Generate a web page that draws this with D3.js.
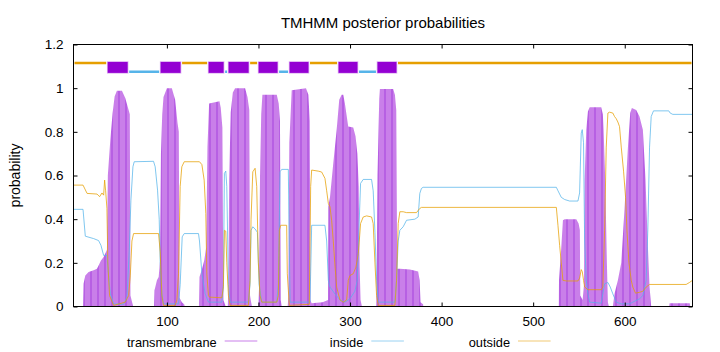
<!DOCTYPE html>
<html>
<head>
<meta charset="utf-8">
<script src="https://cdn.jsdelivr.net/npm/d3@7"></script>
<style>
body { margin: 0; background: #fff; }
svg text { font-family: "Liberation Sans", Arial, sans-serif; fill: #000; }
</style>
</head>
<body>
<svg id="chart"></svg>
<script>
// posterior probabilities per residue as [residue, probability]
var transmembrane = [
  [-2,0],[8.5,0],[9,0.104],[10.9,0.142],[14.5,0.158],[20,0.166],[23.6,0.173],[25.4,0.188],[28,0.211],[30.9,0.227],[33.5,0.25],[34.5,0.26],
  [35.5,0.6],[38.2,0.763],[40.7,0.886],[42.9,0.962],[45.4,0.988],[50.9,0.988],[54.5,0.955],[58.2,0.9],[59.5,0.88],[60.2,0.05],[62,0.02],[63,0],
  [86,0],[86.5,0.074],[89.1,0.12],[91,0.135],[92.5,0.21],[93.5,0.7],[94.9,0.88],[96.3,0.96],[100,1],[105.4,1],[109,0.947],[111.6,0.84],[113,0.8],[113.8,0.04],[116.3,0.02],[118.9,0.01],[119.5,0],
  [135,0],[135.6,0.135],[138.2,0.17],[140.7,0.21],[142.9,0.27],[144.3,0.73],[146.1,0.93],[157.4,0.94],[158.8,0.91],[160.6,0.82],[161.7,0.03],[164.3,0],
  [166.5,0],[167.2,0.1],[168,0.58],[169.7,0.89],[172,0.98],[174.5,1],[185.4,1],[188,0.96],[190,0.9],[190.8,0.05],[192.7,0],
  [200,0],[200.7,0.1],[201.7,0.6],[203,0.88],[204.3,0.97],[220,0.97],[222.1,0.93],[223.5,0.85],[224.3,0.03],[225.5,0],
  [232,0],[232.6,0.05],[233.7,0.75],[236.3,0.99],[251.9,1],[254.5,0.97],[256,0.85],[256.8,0.03],[258,0.015],[270,0.02],[276,0.03],
  [276.3,0.457],[278.1,0.5],[281.7,0.656],[285.4,0.81],[288.2,0.947],[290.8,0.97],[292.6,0.97],[294.4,0.93],[298,0.824],[303.5,0.82],[306,0.78],[308,0.7],[309.5,0.55],[310.5,0.18],[311.5,0.03],[313,0],
  [328.5,0],[329,0.1],[330,0.6],[331.9,0.95],[332.6,0.996],[347.1,0.996],[349,0.97],[350.5,0.9],[351.5,0.173],[354.4,0.173],[365.3,0.17],[370,0.165],[374.4,0.16],[376,0.12],[377,0.02],[379.8,0.01],[380,0],
  [528,0],[528.2,0.12],[530.7,0.27],[532.5,0.395],[534.4,0.4],[547.1,0.4],[549.6,0.38],[551,0.35],[551.4,0.05],[554,0.03],
  [555.5,0.1],[556.2,0.58],[558,0.81],[559.8,0.893],[561.7,0.913],[574.3,0.913],[576.1,0.88],[576.9,0.81],[578.7,0.58],[580.5,0.2],[581.6,0.02],[582.5,0],
  [587,0],[588.9,0.06],[592.5,0.12],[596.2,0.2],[599.8,0.45],[603.5,0.73],[606,0.886],[607.8,0.909],[612.5,0.9],[616.1,0.87],[619.8,0.81],[622.7,0.58],[625.3,0.273],[627.1,0.089],[628.9,0],
  [648.5,0],[649,0.015],[671,0.015],[671.5,0],[674,0]
];

var inside = [
  [-2,0.445],[8.4,0.445],[10.9,0.322],[20,0.311],[25.4,0.302],[28,0.28],[30.9,0.234],[34.5,0.234],[36.4,0.135],[38.2,0.06],[41.8,0.012],[52.7,0.01],
  [56.4,0.043],[58.9,0.257],[60.7,0.487],[62.9,0.64],[64.3,0.663],[85.4,0.665],[87.2,0.64],[89.8,0.533],[91.6,0.4],[92.7,0.2],[94.5,0.06],[96.3,0.012],
  [112.7,0.012],[114.5,0.1],[116.7,0.319],[118.9,0.334],[134.5,0.334],[135.6,0.3],[138.2,0.15],[141.8,0.058],[145.4,0.02],[160,0.02],
  [161.7,0.1],[162.8,0.61],[164.3,0.62],[165.4,0.55],[167.2,0.1],[169,0.02],[189,0.02],[190.8,0.1],[191.9,0.349],[193.8,0.365],[196.3,0.355],[198.8,0.34],
  [200.7,0.1],[203.6,0.02],[220,0.02],[221.7,0.1],[223.6,0.617],[225.4,0.628],[232.6,0.628],[234.5,0.02],[256.3,0.02],[258.1,0.372],[272.6,0.372],
  [274.5,0.3],[276.3,0.12],[278.1,0.089],[283.5,0.058],[289,0.03],[294.4,0.02],[299.9,0.035],[305.3,0.07],[307.9,0.12],[309.7,0.35],[311.5,0.564],
  [314.4,0.582],[323.5,0.582],[325.3,0.53],[327.2,0.34],[329,0.12],[330.8,0.02],[349,0.02],[350.8,0.12],[352.6,0.3],[354.4,0.349],[358,0.365],
  [361.7,0.395],[370.8,0.4],[374.4,0.41],[376.2,0.518],[378,0.541],[379.8,0.546],[525.3,0.546],[527.1,0.53],[530.7,0.5],[534.4,0.49],[539.8,0.483],
  [548.9,0.483],[550.7,0.52],[552.5,0.794],[553.6,0.81],[555,0.75],[556.2,0.3],[558,0.12],[559.8,0.058],[561.7,0.02],[574.3,0.015],[576.1,0.058],
  [578,0.104],[581.6,0.11],[584.2,0.089],[587,0.058],[590.7,0.02],[596.2,0.012],[605.2,0.012],[608.8,0.02],[616.1,0.035],[619.8,0.05],[623.4,0.12],
  [625.2,0.35],[627.1,0.73],[628.9,0.87],[631.4,0.896],[648.1,0.896],[649.6,0.886],[652.5,0.88],[674,0.88]
];

var outside = [
  [-2,0.556],[8.4,0.556],[12.8,0.518],[23.7,0.515],[26.5,0.503],[29.1,0.52],[30.9,0.51],[32,0.579],[33.1,0.53],[34.5,0.45],[35.5,0.2],[37.4,0.05],
  [41.8,0.005],[54.5,0.02],[58.2,0.05],[60,0.14],[61.8,0.3],[63.6,0.334],[90.9,0.334],[92.7,0.25],[94.5,0.05],[96.3,0.005],[109,0.005],[110.9,0.03],
  [112.7,0.15],[114.5,0.55],[116.3,0.64],[118.9,0.663],[135.6,0.663],[138.2,0.65],[140.7,0.579],[142.5,0.426],[143.6,0.15],[145.4,0.05],[146.5,0.043],
  [160,0.04],[161.7,0.09],[162.8,0.349],[164.3,0.345],[165.4,0.2],[167.2,0.05],[169,0.005],[189,0.005],[190.8,0.12],[191.9,0.4],[193.8,0.617],
  [196.3,0.633],[198.1,0.55],[199.9,0.2],[201.7,0.05],[203.6,0.02],[220,0.02],[221.7,0.05],[222.8,0.349],[224.3,0.372],[230.8,0.372],[231.5,0.15],
  [233.7,0.005],[255.5,0.01],[257,0.55],[258.1,0.625],[265.3,0.62],[269,0.616],[272.6,0.587],[274.5,0.53],[276.3,0.472],[278.1,0.457],[279.9,0.395],
  [281.7,0.3],[283.5,0.19],[285.4,0.089],[289,0.03],[292.6,0.02],[296.3,0.03],[298.1,0.12],[299.9,0.142],[303.5,0.15],[306.4,0.18],[309,0.242],
  [310.1,0.3],[311.5,0.38],[314.4,0.41],[318.1,0.415],[323.5,0.41],[325.3,0.38],[327.2,0.2],[329,0.05],[330.8,0.005],[349,0.005],[350.8,0.12],
  [352.6,0.38],[354.4,0.434],[358,0.434],[361.7,0.43],[372.6,0.43],[374.4,0.44],[376.2,0.449],[378,0.454],[525.3,0.454],[527.1,0.37],[528.9,0.28],
  [530.7,0.2],[532.5,0.12],[536.2,0.117],[548.9,0.117],[550.7,0.13],[552.5,0.169],[553.6,0.16],[555,0.12],[556.2,0.089],[559.8,0.077],[574.3,0.077],
  [576.1,0.089],[578,0.349],[579.8,0.73],[581.6,0.886],[583.4,0.89],[587,0.886],[588.9,0.87],[590.7,0.86],[592.5,0.845],[594.3,0.824],[596.2,0.73],
  [598.7,0.62],[600.9,0.5],[602.4,0.35],[604.6,0.2],[607.1,0.12],[608.8,0.089],[611.8,0.061],[616.1,0.065],[619.8,0.07],[623.4,0.089],[627.1,0.101],
  [667.1,0.101],[670.7,0.11],[674,0.12]
];

// predicted topology shown in the bar above the curves
var topoType  = ["outside","TMhelix","inside","TMhelix","outside","TMhelix","inside","TMhelix","outside","TMhelix","inside","TMhelix","outside","TMhelix","inside","TMhelix","outside"];
var topoStart = [-2, 34.8, 57.7, 92.6, 115.5, 145, 162.5, 166.8, 189.8, 199.6, 221.4, 233.4, 255.2, 286.9, 308.7, 329.4, 351.3];
var topoEnd   = [34.8, 57.7, 92.6, 115.5, 145, 162.5, 166.8, 189.8, 199.6, 221.4, 233.4, 255.2, 286.9, 308.7, 329.4, 351.3, 674];

var xTicks = [100, 200, 300, 400, 500, 600];
var yTicks = [0, 0.2, 0.4, 0.6, 0.8, 1, 1.2];
var legendNames = ["transmembrane", "inside", "outside"];

var colors = { transmembrane: "#9400d3", inside: "#56b4e9", outside: "#e69f00" };

var svgWidth = 720, svgHeight = 352;
var margin = { top: 44.5, right: 27.5, bottom: 45.5, left: 73.5 };
var width = svgWidth - margin.left - margin.right;
var height = svgHeight - margin.top - margin.bottom;

var svg = d3.select("#chart")
    .attr("width", svgWidth)
    .attr("height", svgHeight);

// impulses look like a light purple fill with darker stripes
var defs = svg.append("defs");
var pat = defs.append("pattern")
    .attr("id", "tmfill")
    .attr("patternUnits", "userSpaceOnUse")
    .attr("width", 7)
    .attr("height", 20);
pat.append("rect").attr("width", 7).attr("height", 20).attr("fill", "#c97fe9");
pat.append("rect").attr("x", 3).attr("width", 1).attr("height", 20).attr("fill", "#a440dd");

defs.append("clipPath").attr("id", "plotclip")
  .append("rect").attr("width", width).attr("height", height);

var g = svg.append("g")
    .attr("transform", "translate(" + margin.left + "," + margin.top + ")");

var x = d3.scaleLinear().domain([-2, 674]).range([0, width]);
var y = d3.scaleLinear().domain([0, 1.2]).range([height, 0]);

// title
svg.append("text")
    .attr("x", margin.left + width / 2)
    .attr("y", 27.5)
    .attr("text-anchor", "middle")
    .attr("font-size", 15)
    .text("TMHMM posterior probabilities");

// y-axis label
svg.append("text")
    .attr("transform", "translate(20," + (margin.top + height / 2) + ") rotate(-90)")
    .attr("text-anchor", "middle")
    .attr("font-size", 14)
    .text("probability");

var plot = g.append("g").attr("clip-path", "url(#plotclip)");

// transmembrane probability as filled impulses
var area = d3.area()
    .x(function(d) { return x(d[0]); })
    .y0(y(0))
    .y1(function(d) { return y(d[1]); });

plot.append("path")
    .datum(transmembrane)
    .attr("fill", "url(#tmfill)")
    .attr("d", area);

var line = d3.line()
    .x(function(d) { return x(d[0]); })
    .y(function(d) { return y(d[1]); });

plot.append("path")
    .datum(inside)
    .attr("fill", "none")
    .attr("stroke", colors.inside)
    .attr("stroke-opacity", 0.75)
    .attr("stroke-width", 1)
    .attr("d", line);

plot.append("path")
    .datum(outside)
    .attr("fill", "none")
    .attr("stroke", colors.outside)
    .attr("stroke-opacity", 0.75)
    .attr("stroke-width", 1)
    .attr("d", line);

// topology bar at the top
for (var i = 0; i < topoType.length; i++) {
    if (topoType[i] == "inside" || topoType[i] == "outside") {
        var lev = topoType[i] == "inside" ? 1.075 : 1.115;
        plot.append("line")
            .attr("x1", x(topoStart[i]) + 1)
            .attr("x2", x(topoEnd[i]) - 1)
            .attr("y1", y(lev))
            .attr("y2", y(lev))
            .attr("stroke", colors[topoType[i]])
            .attr("stroke-width", 2.6);
    }
}
for (var i = 0; i < topoType.length; i++) {
    if (topoType[i] == "TMhelix") {
        plot.append("rect")
            .attr("x", x(topoStart[i]) + 0.5)
            .attr("width", x(topoEnd[i]) - x(topoStart[i]) - 1)
            .attr("y", y(1.12))
            .attr("height", y(1.07) - y(1.12))
            .attr("fill", colors.transmembrane)
            .attr("stroke", "rgba(148,0,211,0.3)")
            .attr("stroke-width", 1.5);
    }
}

// axes with inward ticks, mirrored on top and right
var yAxis = g.append("g")
    .call(d3.axisLeft(y).tickValues(yTicks).tickSize(-4).tickPadding(10).tickFormat(d3.format("")));
var xAxis = g.append("g")
    .attr("transform", "translate(0," + height + ")")
    .call(d3.axisBottom(x).tickValues(xTicks).tickSize(-4).tickPadding(10));
g.append("g")
    .call(d3.axisTop(x).tickValues(xTicks).tickSize(-4).tickFormat(""));
g.append("g")
    .attr("transform", "translate(" + width + ",0)")
    .call(d3.axisRight(y).tickValues(yTicks).tickSize(-4).tickFormat(""));

g.selectAll(".domain").remove();
g.selectAll(".tick line").attr("stroke", "#000");
yAxis.selectAll("text").attr("font-size", 13.5).attr("font-family", "Liberation Sans, Arial, sans-serif");
xAxis.selectAll("text").attr("font-size", 13.5).attr("font-family", "Liberation Sans, Arial, sans-serif");

// plot border
g.append("rect")
    .attr("width", width)
    .attr("height", height)
    .attr("fill", "none")
    .attr("stroke", "#000")
    .attr("stroke-width", 1);

// legend along the bottom
var legendX = [216.7, 363.3, 510];
var legendColors = ["rgba(148,0,211,0.5)", "rgba(86,180,233,0.6)", "rgba(230,159,0,0.55)"];
for (var k = 0; k < legendNames.length; k++) {
    svg.append("text")
        .attr("x", legendX[k])
        .attr("y", 346.5)
        .attr("text-anchor", "end")
        .attr("font-size", 12.8)
        .text(legendNames[k]);
    svg.append("line")
        .attr("x1", legendX[k] + 8)
        .attr("x2", legendX[k] + 40.6)
        .attr("y1", 341)
        .attr("y2", 341)
        .attr("stroke", legendColors[k])
        .attr("stroke-width", 1);
}
</script>
</body>
</html>
